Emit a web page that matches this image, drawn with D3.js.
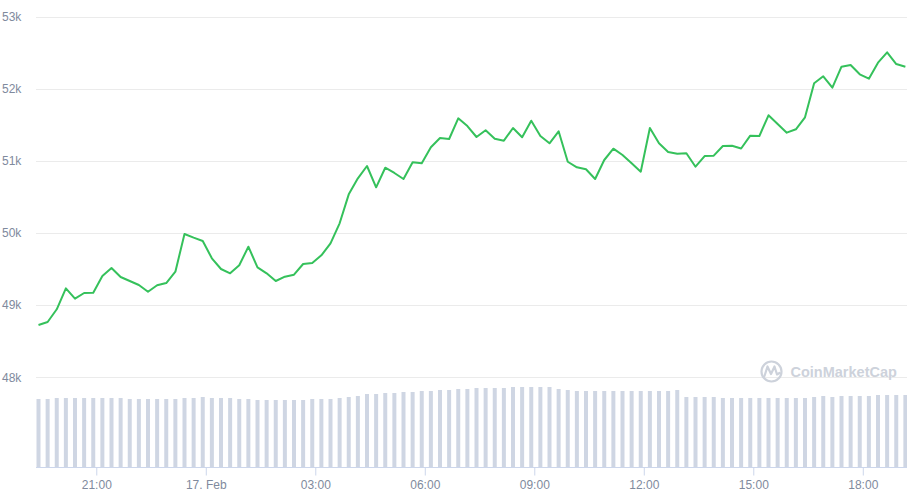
<!DOCTYPE html>
<html>
<head>
<meta charset="utf-8">
<script src="https://cdn.jsdelivr.net/npm/d3@7/dist/d3.min.js"></script>
<style>
  html, body { margin: 0; padding: 0; background: #ffffff; }
  svg { display: block; }
  text { font-family: "Liberation Sans", Arial, sans-serif; }
</style>
</head>
<body>
<svg id="chart" width="907" height="496"></svg>
<script>
// ---- data ----
const startTime = Date.UTC(2021, 1, 16, 19, 25); // first sample
const stepMinutes = 15;
const priceTicks = [48000, 49000, 50000, 51000, 52000, 53000];
const priceValues = [
  48725, 48767, 48943, 49234, 49090, 49169, 49173, 49405, 49515, 49391,
  49335, 49280, 49187, 49276, 49307, 49464, 49987, 49936, 49890, 49650,
  49502, 49442, 49553, 49811, 49525, 49442, 49335, 49395, 49423, 49571,
  49585, 49692, 49858, 50135, 50537, 50759, 50930, 50634, 50906, 50833,
  50750, 50981, 50967, 51189, 51318, 51304, 51591, 51484, 51332, 51425,
  51308, 51281, 51457, 51328, 51558, 51346, 51245, 51411, 50989, 50912,
  50884, 50750, 51013, 51170, 51082, 50967, 50851, 51457, 51245, 51124,
  51100, 51106, 50920, 51068, 51073, 51207, 51211, 51172, 51350, 51346,
  51633, 51512, 51392, 51439, 51605, 52077, 52174, 52016, 52307, 52330,
  52201, 52140, 52362, 52506, 52344, 52307
];
// 24h volume, billions USD
const volumeValues = [
  68.3, 68.3, 69.3, 69.3, 69.3, 69.3, 69.3, 69.3, 69.3, 69.3,
  68.3, 68.3, 68.3, 68.3, 68.3, 68.3, 69.3, 69.3, 70.3, 69.3,
  69.3, 69.3, 68.3, 68.3, 67.3, 67.3, 67.3, 67.3, 67.3, 67.3,
  68.3, 68.3, 68.3, 69.3, 70.3, 71.3, 73.3, 73.3, 74.3, 74.3,
  75.3, 75.3, 76.3, 76.3, 77.3, 77.3, 78.3, 78.3, 79.3, 79.3,
  79.3, 79.3, 80.3, 80.3, 80.3, 80.3, 80.3, 78.3, 77.3, 76.3,
  76.3, 76.3, 76.3, 76.3, 76.3, 76.3, 76.3, 76.3, 76.3, 76.3,
  77.3, 70.3, 70.3, 70.3, 70.3, 69.3, 69.3, 69.3, 69.3, 69.3,
  69.3, 69.3, 69.3, 69.3, 69.3, 70.3, 71.3, 70.3, 71.3, 71.3,
  71.3, 71.3, 72.3, 72.3, 72.3, 72.3
];
const brandLabel = "CoinMarketCap";

// ---- build ----
const times = priceValues.map((_, i) => new Date(startTime + i * stepMinutes * 60000));
const data = priceValues.map((p, i) => ({ t: times[i], price: p, vol: volumeValues[i] }));

const svg = d3.select("#chart");
const W = 907, H = 496;
const plotLeft = 36, plotRight = 907;

const x = d3.scaleUtc()
  .domain([times[0], times[times.length - 1]])
  .range([38.5, 38.5 + 23.75 * 36.5]);

const y = d3.scaleLinear().domain([48000, 53000]).range([377.3, 16.7]);
const yVol = d3.scaleLinear().domain([0, 100]).range([467.3, 367.3]);

// grid lines + y labels
const grid = svg.append("g");
grid.selectAll("line").data(priceTicks).enter().append("line")
  .attr("x1", plotLeft).attr("x2", plotRight)
  .attr("y1", d => Math.round(y(d)) + 0.5).attr("y2", d => Math.round(y(d)) + 0.5)
  .attr("stroke", "#ebebeb").attr("stroke-width", 1);
grid.selectAll("text").data(priceTicks).enter().append("text")
  .attr("x", 2).attr("y", d => y(d) + 4.3)
  .attr("font-size", 12).attr("fill", "#808a9d")
  .text(d => (d / 1000) + "k");

// watermark logo
const logo = svg.append("g").attr("fill", "none").attr("stroke", "#cdd2db");
logo.append("circle").attr("cx", 771.5).attr("cy", 371.5).attr("r", 10)
  .attr("stroke-width", 2.2);
logo.append("path")
  .attr("d", "M764.5,376 L767.5,366.5 L771,374 L774.5,366.5 L777,374.5 L779.5,373")
  .attr("stroke-width", 2.2).attr("stroke-linejoin", "round").attr("stroke-linecap", "round");
svg.append("text").attr("x", 790.5).attr("y", 376.8)
  .attr("font-family", "Inter, 'Noto Sans', sans-serif").attr("font-weight", 600)
  .attr("font-size", 14.5).attr("fill", "#cdd2db")
  .text(brandLabel);

// volume bars
svg.append("g").selectAll("rect").data(data).enter().append("rect")
  .attr("x", d => x(d.t) - 2)
  .attr("width", 4)
  .attr("y", d => yVol(d.vol))
  .attr("height", d => yVol(0) - yVol(d.vol))
  .attr("fill", "#cfd6e3");

// x axis
const xAxisG = svg.append("g").attr("transform", "translate(0,467.5)");
xAxisG.append("line").attr("x1", plotLeft).attr("x2", plotRight)
  .attr("stroke", "#ccd6eb").attr("stroke-width", 1);
const fmt = d => (d.getUTCHours() === 0 ? d3.utcFormat("%-d. %b")(d) : d3.utcFormat("%H:%M")(d));
const axis = d3.axisBottom(x).ticks(d3.utcHour.every(3)).tickFormat(fmt).tickSizeOuter(0).tickSize(8).tickPadding(5);
const ax = xAxisG.append("g").call(axis);
ax.select(".domain").remove();
ax.selectAll(".tick line").attr("stroke", "#ccd6eb");
ax.selectAll(".tick text").attr("font-size", 12).attr("fill", "#808a9d")
  .attr("font-family", "'Liberation Sans', Arial, sans-serif");

// price line
const line = d3.line().x(d => x(d.t)).y(d => y(d.price));
svg.append("path").datum(data)
  .attr("d", line)
  .attr("fill", "none")
  .attr("stroke", "#35c15b")
  .attr("stroke-width", 2)
  .attr("stroke-linejoin", "round");
</script>
</body>
</html>
